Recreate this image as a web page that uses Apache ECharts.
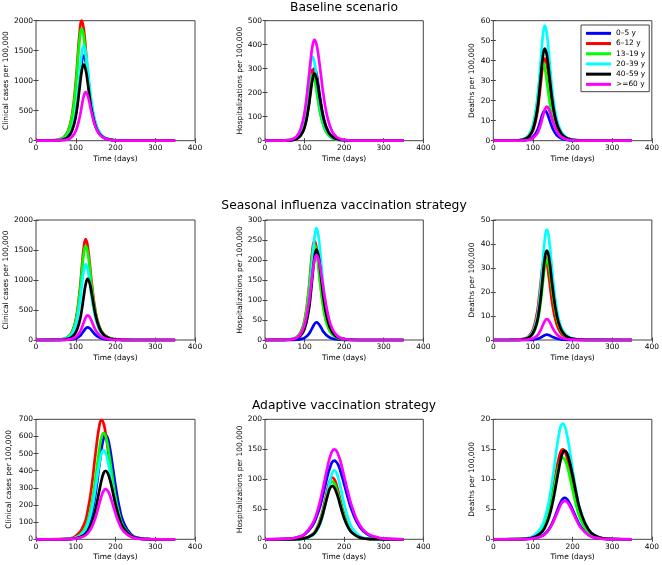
<!DOCTYPE html>
<html>
<head>
<meta charset="utf-8">
<script src="https://cdn.jsdelivr.net/npm/echarts@6.0.0/dist/echarts.min.js"></script>
<style>
html,body{margin:0;padding:0;background:#fff;}
#chart{width:662px;height:565px;}
</style>
</head>
<body>
<div id="chart"></div>
<script>
// ---------- data ----------
const groups = ['0–5 y', '6–12 y', '13–19 y', '20–39 y', '40–59 y', '>=60 y'];
const scenarioTitles = ['Baseline scenario', 'Seasonal influenza vaccination strategy', 'Adaptive vaccination strategy'];
const yNames = ['Clinical cases per 100,000', 'Hospitalizations per 100,000', 'Deaths per 100,000'];
const xName = 'Time (days)';
const xTicks = [0, 100, 200, 300, 400];
const yMax = [2000, 500, 60, 2000, 300, 50, 700, 200, 20];
const yStep = [500, 100, 10, 500, 50, 10, 100, 50, 5];

// time points (days)
const T12 = [0, 40, 60, 70, 80, 90, 100, 110, 115, 120, 125, 130, 135, 140, 150, 160, 170, 180, 190, 200, 220, 250, 350];
const T3 = [0, 60, 80, 100, 120, 130, 140, 150, 160, 165, 170, 175, 180, 185, 190, 200, 210, 220, 240, 260, 280, 300, 350];

// each panel: rows in order 0-5, 6-12, 13-19, 20-39, 40-59, >=60
const baseCases = [
  [0,2,11,27,67,175,448,1003,1295,1420,1323,1086,812,573,267,124,59,29,14,7,2,0,0],
  [0,4,24,60,154,396,976,1824,2000,1863,1529,1143,807,556,256,120,58,28,13,7,2,0,0],
  [0,4,22,56,144,370,913,1705,1870,1742,1430,1069,754,520,239,112,54,27,13,6,2,0,0],
  [0,2,12,30,75,194,499,1116,1441,1580,1472,1208,903,637,297,138,66,32,16,8,2,0,0],
  [0,2,10,24,60,156,401,897,1158,1270,1183,971,726,512,239,111,53,26,13,6,2,0,0],
  [0,1,4,10,24,62,160,395,572,739,810,755,619,463,225,104,49,23,12,5,1,0,0]
];
const baseHosp = [
  [0,0.3,1.5,3.6,9,23,59,146,212,274,300,280,229,171,83,38,18,9,4,2,0.5,0,0],
  [0,0.4,2.3,5.5,14,36,93,208,269,295,275,226,169,119,55,26,12,6,3,1.5,0.4,0,0],
  [0,0.4,2.1,5.2,13,34,87,194,251,275,256,210,157,111,52,24,11,6,3,1.4,0.4,0,0],
  [0,0.5,2.7,6.6,17,43,110,247,319,350,326,268,200,141,66,31,15,7,3.5,1.8,0.5,0,0],
  [0,0.3,1.4,3.4,8.4,22,55,137,198,255,280,261,214,160,78,36,17,8,4,1.9,0.5,0,0],
  [0,0.3,2.5,6.8,18,48,118,251,330,395,420,402,355,291,165,83,38,17,7.4,3.2,0.6,0,0]
];
const baseDeaths = [
  [0,0.01,0.05,0.12,0.28,0.71,1.85,4.73,7.32,10.6,13.7,15,14.0,11.5,6.05,2.82,1.31,0.62,0.3,0.15,0.04,0,0],
  [0,0.02,0.13,0.32,0.77,1.95,5.05,12.9,20.0,29.0,37.4,41,38.2,31.4,16.5,7.7,3.58,1.7,0.83,0.41,0.1,0.01,0],
  [0,0.04,0.19,0.47,1.17,3.0,7.7,19.0,27.6,35.6,39,36.3,29.8,22.3,10.8,5.0,2.34,1.13,0.55,0.26,0.07,0.01,0],
  [0,0.03,0.18,0.44,1.08,2.73,7.08,18.1,28.1,40.6,52.4,57.5,53.6,44.0,23.2,10.8,5.0,2.39,1.17,0.58,0.14,0.02,0],
  [0,0.03,0.15,0.35,0.86,2.19,5.66,14.5,22.4,32.5,42.0,46,42.9,35.2,18.6,8.65,4.02,1.91,0.93,0.46,0.12,0.01,0],
  [0,0.01,0.03,0.08,0.2,0.51,1.31,3.36,5.37,8.3,12.0,15.5,17,15.8,9.7,4.73,2.18,1.02,0.49,0.24,0.06,0.01,0]
];
const seasCases = [
  [0,0.1,0.7,1.6,3.9,10,26,66,102,148,192,210,196,161,85,40,18,9,4,2,0.5,0,0],
  [0,1.5,8,20,50,129,332,820,1187,1532,1680,1565,1285,960,467,215,101,49,24,11,3,0.5,0],
  [0,1.4,8,19,47,121,311,766,1109,1432,1570,1463,1201,897,436,201,94,45,22,11,3,0.5,0],
  [0,1.1,6,15,38,97,249,615,890,1149,1260,1174,964,720,350,161,76,36,18,8,2,0.4,0],
  [0,0.6,3.3,8,19,48,126,322,498,721,930,1020,950,780,411,192,89,42,21,10,2.6,0.3,0],
  [0,0.2,1.3,3.2,7.7,19,50,129,200,290,374,410,382,314,165,77,36,17,8,4,1,0,0]
];
const seasHosp = [
  [0,0.03,0.14,0.34,0.83,2.09,5.4,13.9,21.5,31.1,40.1,44,41.0,33.6,17.7,8.3,3.8,1.8,0.9,0.44,0.11,0.01,0],
  [0,0.2,1.2,3,7.4,19,49,121,175,226,248,231,190,142,69,32,15,7,3.5,1.7,0.4,0,0],
  [0,0.2,1.2,2.9,7.1,18,47,116,168,217,238,222,182,136,66,30,14,7,3.4,1.6,0.4,0,0],
  [0,0.2,0.9,2.2,5.3,13,34,88,137,198,255,280,261,214,113,53,24,12,6,2.8,0.7,0,0],
  [0,0.1,0.7,1.7,4.2,11,28,71,110,160,206,226,211,173,91,43,20,9,4.6,2.3,0.6,0,0],
  [0,0.1,0.8,2.1,5.6,15,38,89,126,167,199,212,203,179,113,59,28,13,5.6,2.5,0.5,0,0]
];
const seasDeaths = [
  [0,0,0,0.01,0.03,0.07,0.17,0.44,0.69,1.07,1.55,2.01,2.2,2.05,1.26,0.61,0.28,0.13,0.06,0.03,0.01,0,0],
  [0,0.02,0.11,0.27,0.65,1.65,4.27,10.95,16.9,24.5,31.6,34.7,32.3,26.5,14.0,6.5,3.03,1.44,0.7,0.35,0.09,0.01,0],
  [0,0.01,0.06,0.16,0.4,1.0,2.58,6.63,10.6,16.3,23.7,30.6,33.5,31.2,19.1,9.3,4.29,2.01,0.97,0.48,0.11,0.02,0],
  [0,0.02,0.09,0.23,0.55,1.38,3.54,9.1,14.5,22.4,32.5,42.0,46,42.9,26.3,12.8,5.9,2.76,1.33,0.65,0.16,0.02,0],
  [0,0.01,0.07,0.18,0.45,1.12,2.87,7.38,11.8,18.2,26.4,34.0,37.3,34.8,21.3,10.4,4.77,2.24,1.08,0.53,0.13,0.02,0],
  [0,0,0.02,0.04,0.1,0.26,0.67,1.72,2.75,4.25,6.15,7.93,8.7,8.11,4.97,2.42,1.11,0.52,0.25,0.12,0.03,0,0]
];
const adapCases = [
  [0,0,2,8,35,72,145,271,445,528,588,610,592,543,472,314,184,101,27,7,2,0,0],
  [0,1,4,19,82,166,309,507,671,696,676,619,539,447,358,210,115,60,16,4,1,0,0],
  [0,1,2,11,51,105,204,361,537,598,620,602,552,480,398,247,139,74,20,5,1,0,0],
  [0,0,2,9,43,88,171,303,450,501,520,505,463,402,334,207,116,62,16,4,1,0,0],
  [0,0,1,5,23,47,95,178,292,346,386,400,388,356,310,206,121,66,18,5,1,0,0],
  [0,0,1,4,17,35,70,130,214,254,282,293,285,261,227,151,88,48,13,3,1,0,0]
];
const adapHosp = [
  [0,1,3,8,23,37,57,84,111,121,129,131,129,124,115,92,68,47,20,8,3,1,0],
  [0,0,0.4,1.9,8.4,17.4,34,60,89,99,103,100,92,80,66,41,23,12,3.3,0.8,0.2,0,0],
  [0,0,0.4,1.7,7.9,16.2,32,56,83,93,96,93,85,74,62,38,21,11,3,0.8,0.2,0,0],
  [0,0,0.3,1.4,6.5,13.6,27,51,84,100,111,115,112,102,89,59,35,19,5,1.3,0.3,0,0],
  [0,0,0.3,1.6,7.3,15.0,29,52,77,86,89,86,79,69,57,35,20,11,2.8,0.7,0.2,0,0],
  [0,1,3,9,26,42,66,96,127,139,147,150,148,141,132,105,78,54,23,9,4,1,0]
];
const adapDeaths = [
  [0,0.01,0.04,0.13,0.49,0.92,1.68,2.9,4.56,5.43,6.19,6.71,6.9,6.75,6.33,4.97,3.45,2.19,0.76,0.24,0.08,0.02,0],
  [0,0.03,0.11,0.4,1.46,2.71,4.84,8.0,11.8,13.4,14.6,15.0,14.7,13.8,12.4,9.1,6.0,3.7,1.26,0.4,0.12,0.04,0],
  [0,0.03,0.1,0.36,1.32,2.46,4.39,7.26,10.7,12.2,13.2,13.6,13.3,12.5,11.3,8.27,5.45,3.36,1.14,0.36,0.11,0.04,0],
  [0,0.04,0.14,0.51,1.88,3.49,6.23,10.3,15.2,17.3,18.8,19.3,18.9,17.7,16.0,11.7,7.73,4.77,1.62,0.51,0.16,0.05,0],
  [0,0.02,0.08,0.28,1.05,1.96,3.59,6.22,9.77,11.6,13.3,14.4,14.8,14.5,13.6,10.7,7.4,4.7,1.64,0.53,0.16,0.05,0],
  [0,0.01,0.03,0.12,0.45,0.85,1.55,2.69,4.23,5.03,5.74,6.23,6.4,6.26,5.88,4.61,3.2,2.03,0.71,0.23,0.07,0.02,0]
];

// ---------- layout & style ----------
const colors = ['#0000ff', '#ff0000', '#00ff00', '#00ffff', '#000000', '#ff00ff'];
const panelData = [baseCases, baseHosp, baseDeaths, seasCases, seasHosp, seasDeaths, adapCases, adapHosp, adapDeaths];
const panelTimes = [T12, T12, T12, T12, T12, T12, T3, T3, T3];
const colLeft = [36, 265, 493.3];
const colWidth = [159, 158.3, 159];
const rowTop = [20.7, 220, 419.3];
const plotH = 120;
const yNameGap = [22.5, 21, 17.5];
const titleY = [2, 200, 400];
const FONT = 'DejaVu Sans';
const FS = 7.5;
const AX = '#444';

const option = {
  animation: false,
  backgroundColor: '#ffffff',
  grid: [], xAxis: [], yAxis: [], series: [],
  legend: {
    data: groups,
    orient: 'vertical',
    left: 581, top: 25,
    icon: 'rect',
    itemWidth: 25, itemHeight: 3,
    itemGap: 1.5,
    padding: [4, 4, 3, 5],
    backgroundColor: '#ffffff',
    borderColor: AX, borderWidth: 1,
    selectedMode: false,
    textStyle: { fontFamily: FONT, fontSize: 7.4, color: '#000', lineHeight: 8.7 }
  },
  graphic: []
};

for (let p = 0; p < 9; p++) {
  const r = Math.floor(p / 3), c = p % 3;
  option.grid.push({
    left: colLeft[c], top: rowTop[r], width: colWidth[c], height: plotH,
    show: true, borderColor: AX, borderWidth: 1, backgroundColor: 'transparent'
  });
  const tick = { show: true, inside: true, length: 2.5, lineStyle: { color: AX, width: 1 } };
  option.xAxis.push({
    gridIndex: p, type: 'value', position: 'bottom',
    min: xTicks[0], max: xTicks[xTicks.length - 1], interval: xTicks[1] - xTicks[0],
    axisLine: { show: false }, axisTick: tick, splitLine: { show: false },
    axisLabel: { fontFamily: FONT, fontSize: FS, color: '#000', margin: 3.5, formatter: v => String(v) },
    name: xName, nameLocation: 'middle', nameGap: 14,
    nameTextStyle: { fontFamily: FONT, fontSize: FS, color: '#000' }
  });
  option.xAxis.push({
    gridIndex: p, type: 'value', position: 'top',
    min: xTicks[0], max: xTicks[xTicks.length - 1], interval: xTicks[1] - xTicks[0],
    axisLine: { show: false }, axisTick: tick, splitLine: { show: false },
    axisLabel: { show: false }
  });
  option.yAxis.push({
    gridIndex: p, type: 'value', position: 'left',
    min: 0, max: yMax[p], interval: yStep[p],
    axisLine: { show: false }, axisTick: tick, splitLine: { show: false },
    axisLabel: { fontFamily: FONT, fontSize: FS, color: '#000', margin: 3, formatter: v => String(v) },
    name: yNames[c], nameLocation: 'middle', nameGap: yNameGap[c],
    nameTextStyle: { fontFamily: FONT, fontSize: FS, color: '#000' }
  });
  option.yAxis.push({
    gridIndex: p, type: 'value', position: 'right',
    min: 0, max: yMax[p], interval: yStep[p],
    axisLine: { show: false }, axisTick: tick, splitLine: { show: false },
    axisLabel: { show: false }
  });
  for (let s = 0; s < groups.length; s++) {
    option.series.push({
      type: 'line', name: groups[s],
      xAxisIndex: 2 * p, yAxisIndex: 2 * p,
      data: panelTimes[p].map((t, k) => [t, panelData[p][s][k]]),
      showSymbol: false, symbol: 'none',
      smooth: true,
      clip: false, silent: true,
      color: colors[s],
      lineStyle: { color: colors[s], width: 2.7 },
      itemStyle: { color: colors[s] }
    });
  }
}

scenarioTitles.forEach((t, i) => {
  option.graphic.push({
    type: 'text', x: 344, y: titleY[i], silent: true,
    style: {
      text: t, fontFamily: FONT, fontSize: 12.3, fill: '#000',
      textAlign: 'center', align: 'center', textVerticalAlign: 'top', verticalAlign: 'top'
    }
  });
});

const chart = echarts.init(document.getElementById('chart'), null, { renderer: 'canvas' });
chart.setOption(option);
</script>
</body>
</html>
